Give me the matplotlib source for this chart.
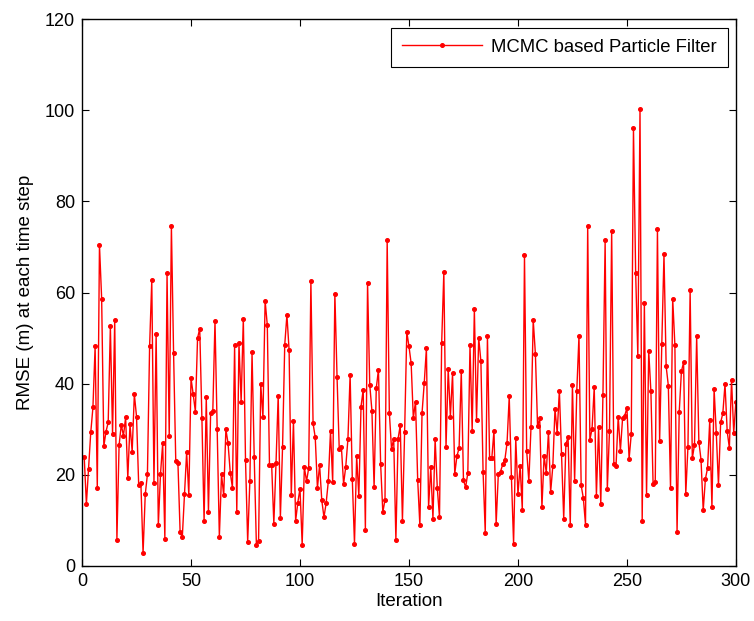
import matplotlib
matplotlib.use("Agg")
import matplotlib.pyplot as plt
import numpy as np

# RMSE per iteration (iterations 1..300)
rmse = [
    23.9, 13.6, 21.3, 29.3, 34.8, 48.2, 17.2, 70.4, 58.7, 26.3, 29.5, 31.5, 52.6,
    29.0, 54.0, 5.8, 26.5, 31.0, 28.6, 32.6, 19.3, 31.1, 25.1, 37.7, 32.8,
    17.7, 18.2, 2.8, 15.7, 20.1, 48.2, 62.7, 18.2, 51.0, 8.9, 20.2, 26.9, 6.0,
    64.2, 28.6, 74.6, 46.8, 23.1, 22.6, 7.4, 6.3, 15.7, 25.0, 15.5,
    41.2, 37.7, 33.9, 50.0, 52.1, 32.4, 9.8, 37.0, 11.8, 33.6, 34.0, 53.8, 30.1,
    6.4, 20.1, 15.5, 30.0, 26.9, 20.5, 17.2, 48.4, 11.8, 48.9, 36.1, 54.3, 23.3, 5.3,
    18.6, 46.9, 23.9, 4.5, 5.5, 39.9, 32.6, 58.2, 52.9, 22.2, 22.2, 9.3, 22.6,
    37.4, 10.6, 26.1, 48.5, 55.1, 47.4, 15.5, 31.8, 9.9, 13.9, 17.0, 4.7,
    21.7, 18.6, 21.5, 62.6, 31.3, 28.2, 17.1, 22.2, 14.4, 10.7, 13.8, 18.6,
    29.6, 18.4, 59.8, 41.5, 25.7, 26.1, 18.0, 21.8, 27.9, 42.0, 19.0,
    4.9, 24.1, 15.3, 35.0, 38.7, 8.0, 62.2, 39.8, 34.1, 17.3, 39.0, 43.1, 22.4,
    11.8, 14.5, 71.5, 33.6, 25.7, 27.9, 5.6, 27.9, 30.9, 9.9, 29.3, 51.4, 48.2, 44.5,
    32.4, 36.1, 18.9, 8.9, 33.6, 40.1, 47.8, 12.9, 21.7, 10.4, 27.9, 17.1, 10.7,
    48.9, 64.5, 26.1, 43.2, 32.8, 42.3, 20.2, 24.1, 25.9, 42.8, 18.8, 17.3,
    20.4, 48.5, 29.7, 56.3, 32.1, 50.1, 44.9, 20.7, 7.3, 50.5, 23.6, 23.6,
    29.7, 9.3, 20.2, 20.7, 22.3, 23.3, 27.0, 37.2, 19.6, 4.9, 28.0,
    15.7, 22.0, 12.3, 68.2, 25.3, 18.6, 30.6, 54.0, 46.6, 30.7, 32.4, 12.9, 24.1,
    20.5, 29.5, 16.2, 21.9, 34.5, 29.2, 38.5, 24.5, 10.4, 26.8, 28.2, 9.0, 39.8, 18.6, 38.5,
    50.5, 17.7, 14.9, 9.1, 74.7, 27.7, 30.1, 39.3, 15.4, 30.5, 13.5, 37.6,
    71.5, 16.8, 29.6, 73.5, 22.4, 22.0, 32.8, 25.3, 32.4, 33.0, 34.7, 23.5,
    29.0, 96.1, 64.4, 46.1, 100.3, 9.8, 57.8, 15.5, 47.2, 38.3, 18.0, 18.5, 73.9,
    27.4, 48.7, 68.4, 43.8, 39.6, 17.1, 58.7, 48.5, 7.4, 33.9, 42.7, 44.7, 15.8,
    26.2, 60.5, 23.6, 26.6, 50.4, 27.3, 23.3, 12.2, 19.1, 21.5, 32.0, 12.9,
    38.8, 29.2, 17.7, 31.5, 33.5, 39.9, 29.6, 25.9, 40.9, 29.2, 36.1,
]
iterations = np.arange(1, len(rmse) + 1)

x_ticks = [0, 50, 100, 150, 200, 250, 300]
y_ticks = [0, 20, 40, 60, 80, 100, 120]

plt.rcParams['font.family'] = ['Liberation Sans', 'DejaVu Sans']

fig = plt.figure(figsize=(7.54, 6.21), dpi=100)
ax = fig.add_axes([0.1088, 0.0886, 0.8672, 0.8804])

ax.plot(iterations, rmse, color='red', linewidth=1.0, marker='o',
        markersize=2.6, label='MCMC based Particle Filter')

ax.set_xlim(0, 300)
ax.set_ylim(0, 120)
ax.set_xticks(x_ticks)
ax.set_yticks(y_ticks)
ax.tick_params(direction='in', length=5, width=0.8, labelsize=13,
               top=True, right=True, pad=5)
for s in ax.spines.values():
    s.set_linewidth(1.0)

ax.set_xlabel('Iteration', fontsize=13.5, labelpad=2)
ax.set_ylabel('RMSE (m) at each time step', fontsize=13.5, labelpad=8)

leg = ax.legend(loc='upper right', fontsize=13.3, fancybox=False,
                edgecolor='black', framealpha=1, borderaxespad=0.45,
                handlelength=4.3, handletextpad=0.5, borderpad=0.6)
leg.get_frame().set_linewidth(0.8)

fig.savefig('out.png', dpi=100)
